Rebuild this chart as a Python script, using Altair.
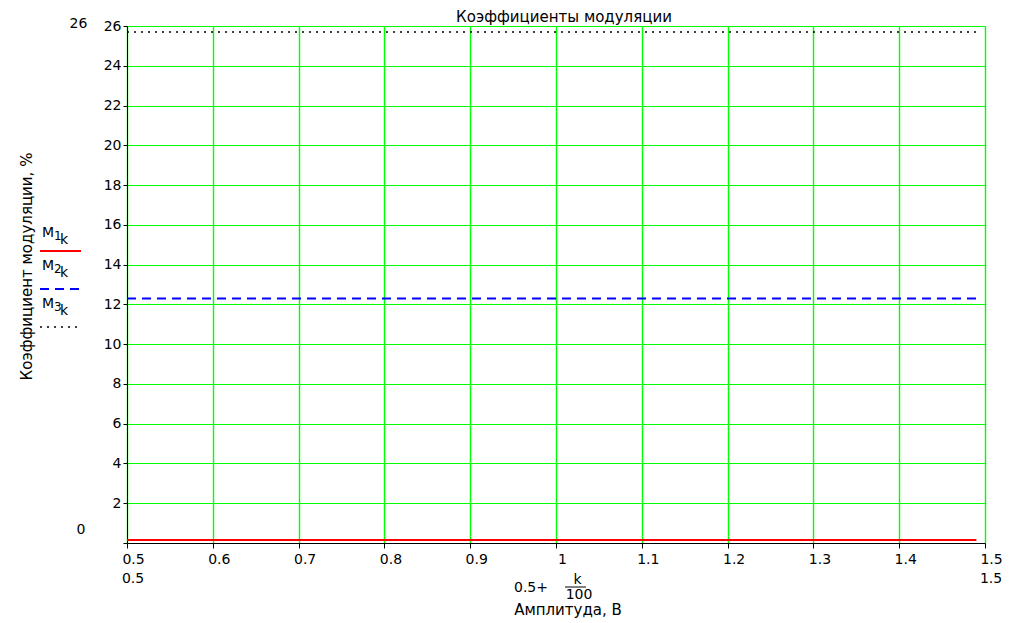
import altair as alt
import pandas as pd

# ---- data ----
amplitude = [0.5, 1.49]          # 0.5 + k/100, k = 0..99
m1_values = [0.15, 0.15]         # M1_k, %
m2_values = [12.3, 12.3]         # M2_k, %
m3_values = [25.7, 25.7]         # M3_k, %
x_ticks = [0.5, 0.6, 0.7, 0.8, 0.9, 1.0, 1.1, 1.2, 1.3, 1.4, 1.5]
y_ticks = [0, 2, 4, 6, 8, 10, 12, 14, 16, 18, 20, 22, 24, 26]
x_limits = [0.5, 1.5]
y_limits = [0, 26]

W, H = 858, 517
FONT = "DejaVu Sans"
FS = 14
TFS = 15

df1 = pd.DataFrame({"x": amplitude, "y": m1_values})
df2 = pd.DataFrame({"x": amplitude, "y": m2_values})
df3 = pd.DataFrame({"x": amplitude, "y": m3_values})

xs = alt.Scale(domain=x_limits, nice=False, zero=False)
ys = alt.Scale(domain=y_limits, nice=False, zero=False)

x_axis = alt.Axis(
    values=x_ticks, format="~g", grid=True, gridColor="#00ff00", gridWidth=1.4,
    domainColor="black", tickColor="black", tickSize=5, labelPadding=4,
    labelOffset=6, labelAlign="center", labelFlush=False, labelOverlap=False,
    labelFont=FONT, labelFontSize=FS, labelColor="black",
    title="Амплитуда, В", titleFont=FONT, titleFontSize=TFS, titleFontWeight="normal",
    titleColor="black", titleX=440.5, titleY=71, titleAnchor="start",
    titleAlign="center", titleBaseline="alphabetic",
)
y_axis = alt.Axis(
    values=y_ticks, grid=True, gridColor="#00ff00", gridWidth=1,
    domainColor="black", tickColor="black", tickSize=4, labelPadding=2,
    labelExpr="datum.value == 0 ? '' : datum.label",
    labelFont=FONT, labelFontSize=FS, labelColor="black", labelFlush=False,
    labelOverlap=False, labelBaseline="middle",
    title="Коэффициент модуляции, %", titleFont=FONT, titleFontSize=TFS,
    titleFontWeight="normal", titleColor="black", titleAngle=270,
    titleX=-96, titleY=240, titleAlign="center", titleBaseline="alphabetic",
    titleAnchor="start",
)

X = lambda: alt.X("x:Q", scale=xs, axis=x_axis)
Y = lambda: alt.Y("y:Q", scale=ys, axis=y_axis)

line1 = alt.Chart(df1).mark_line(color="#ff0000", strokeWidth=2).encode(x=X(), y=Y())
line2 = alt.Chart(df2).mark_line(color="#0000ff", strokeWidth=2, strokeDash=[9, 6]).encode(
    x=X(), y=Y()
)
line3 = alt.Chart(df3).mark_line(color="black", strokeWidth=1.5, strokeDash=[2, 5]).encode(
    x=X(), y=Y()
)

# second row of x limit labels
xlim_df = pd.DataFrame({"x": x_limits, "t": ["0.5", "1.5"]})
xlim = alt.Chart(xlim_df).mark_text(
    font=FONT, fontSize=FS, color="black", dx=6, baseline="alphabetic"
).encode(x=X(), y=alt.value(H + 40), text="t:N")

# y limit labels on the left
ylim_df = pd.DataFrame({"y": y_limits, "t": ["0", "26"]})
ylim_lo = alt.Chart(ylim_df.iloc[[0]]).mark_text(
    font=FONT, fontSize=FS, color="black", baseline="alphabetic", dy=-9
).encode(y=Y(), x=alt.value(-46), text="t:N")
ylim_hi = alt.Chart(ylim_df.iloc[[1]]).mark_text(
    font=FONT, fontSize=FS, color="black", baseline="alphabetic", dy=2
).encode(y=Y(), x=alt.value(-48.5), text="t:N")

def txt(s, x, y, size=FS, align="left"):
    return alt.Chart(pd.DataFrame({"t": [s]})).mark_text(
        font=FONT, fontSize=size, color="black", align=align, baseline="alphabetic"
    ).encode(x=alt.value(x), y=alt.value(y), text="t:N")

title = txt("Коэффициенты модуляции", 437, -4, size=TFS, align="center")

# x expression label: 0.5+ k/100
expr = [
    txt("0.5+", 421, 566, align="right"),
    txt("k", 450.5, 558, align="center"),
    txt("100", 452, 573, align="center"),
    alt.Chart(pd.DataFrame({"a": [0]})).mark_rule(color="black", strokeWidth=1).encode(
        x=alt.value(438), x2=alt.value(459), y=alt.value(561)
    ),
]

# legend (label above line sample)
legend = []
for base_y, line_y, n, color, dash, sw in [
    (211, 225, "1", "#ff0000", None, 2),
    (244, 263, "2", "#0000ff", [9, 6], 2),
    (282, 301, "3", "black", [2, 5], 1.5),
]:
    legend += [
        txt("M", -85, base_y),
        txt(n, -73, base_y + 3, size=12),
        txt("k", -67, base_y + 7),
    ]
    kw = dict(color=color, strokeWidth=sw)
    if dash:
        kw["strokeDash"] = dash
    legend.append(
        alt.Chart(pd.DataFrame({"a": [0]})).mark_rule(**kw).encode(
            x=alt.value(-87), x2=alt.value(-46), y=alt.value(line_y)
        )
    )

chart = alt.layer(
    line1, line2, line3, xlim, ylim_lo, ylim_hi, title, *expr, *legend
).properties(
    width=W, height=H,
    autosize=alt.AutoSizeParams(type="none"),
    padding={"left": 119, "top": 18, "right": 20, "bottom": 80},
).configure_view(stroke=None).configure(background="white")

chart.save("out.html", embed_options={"renderer": "svg", "actions": False})
